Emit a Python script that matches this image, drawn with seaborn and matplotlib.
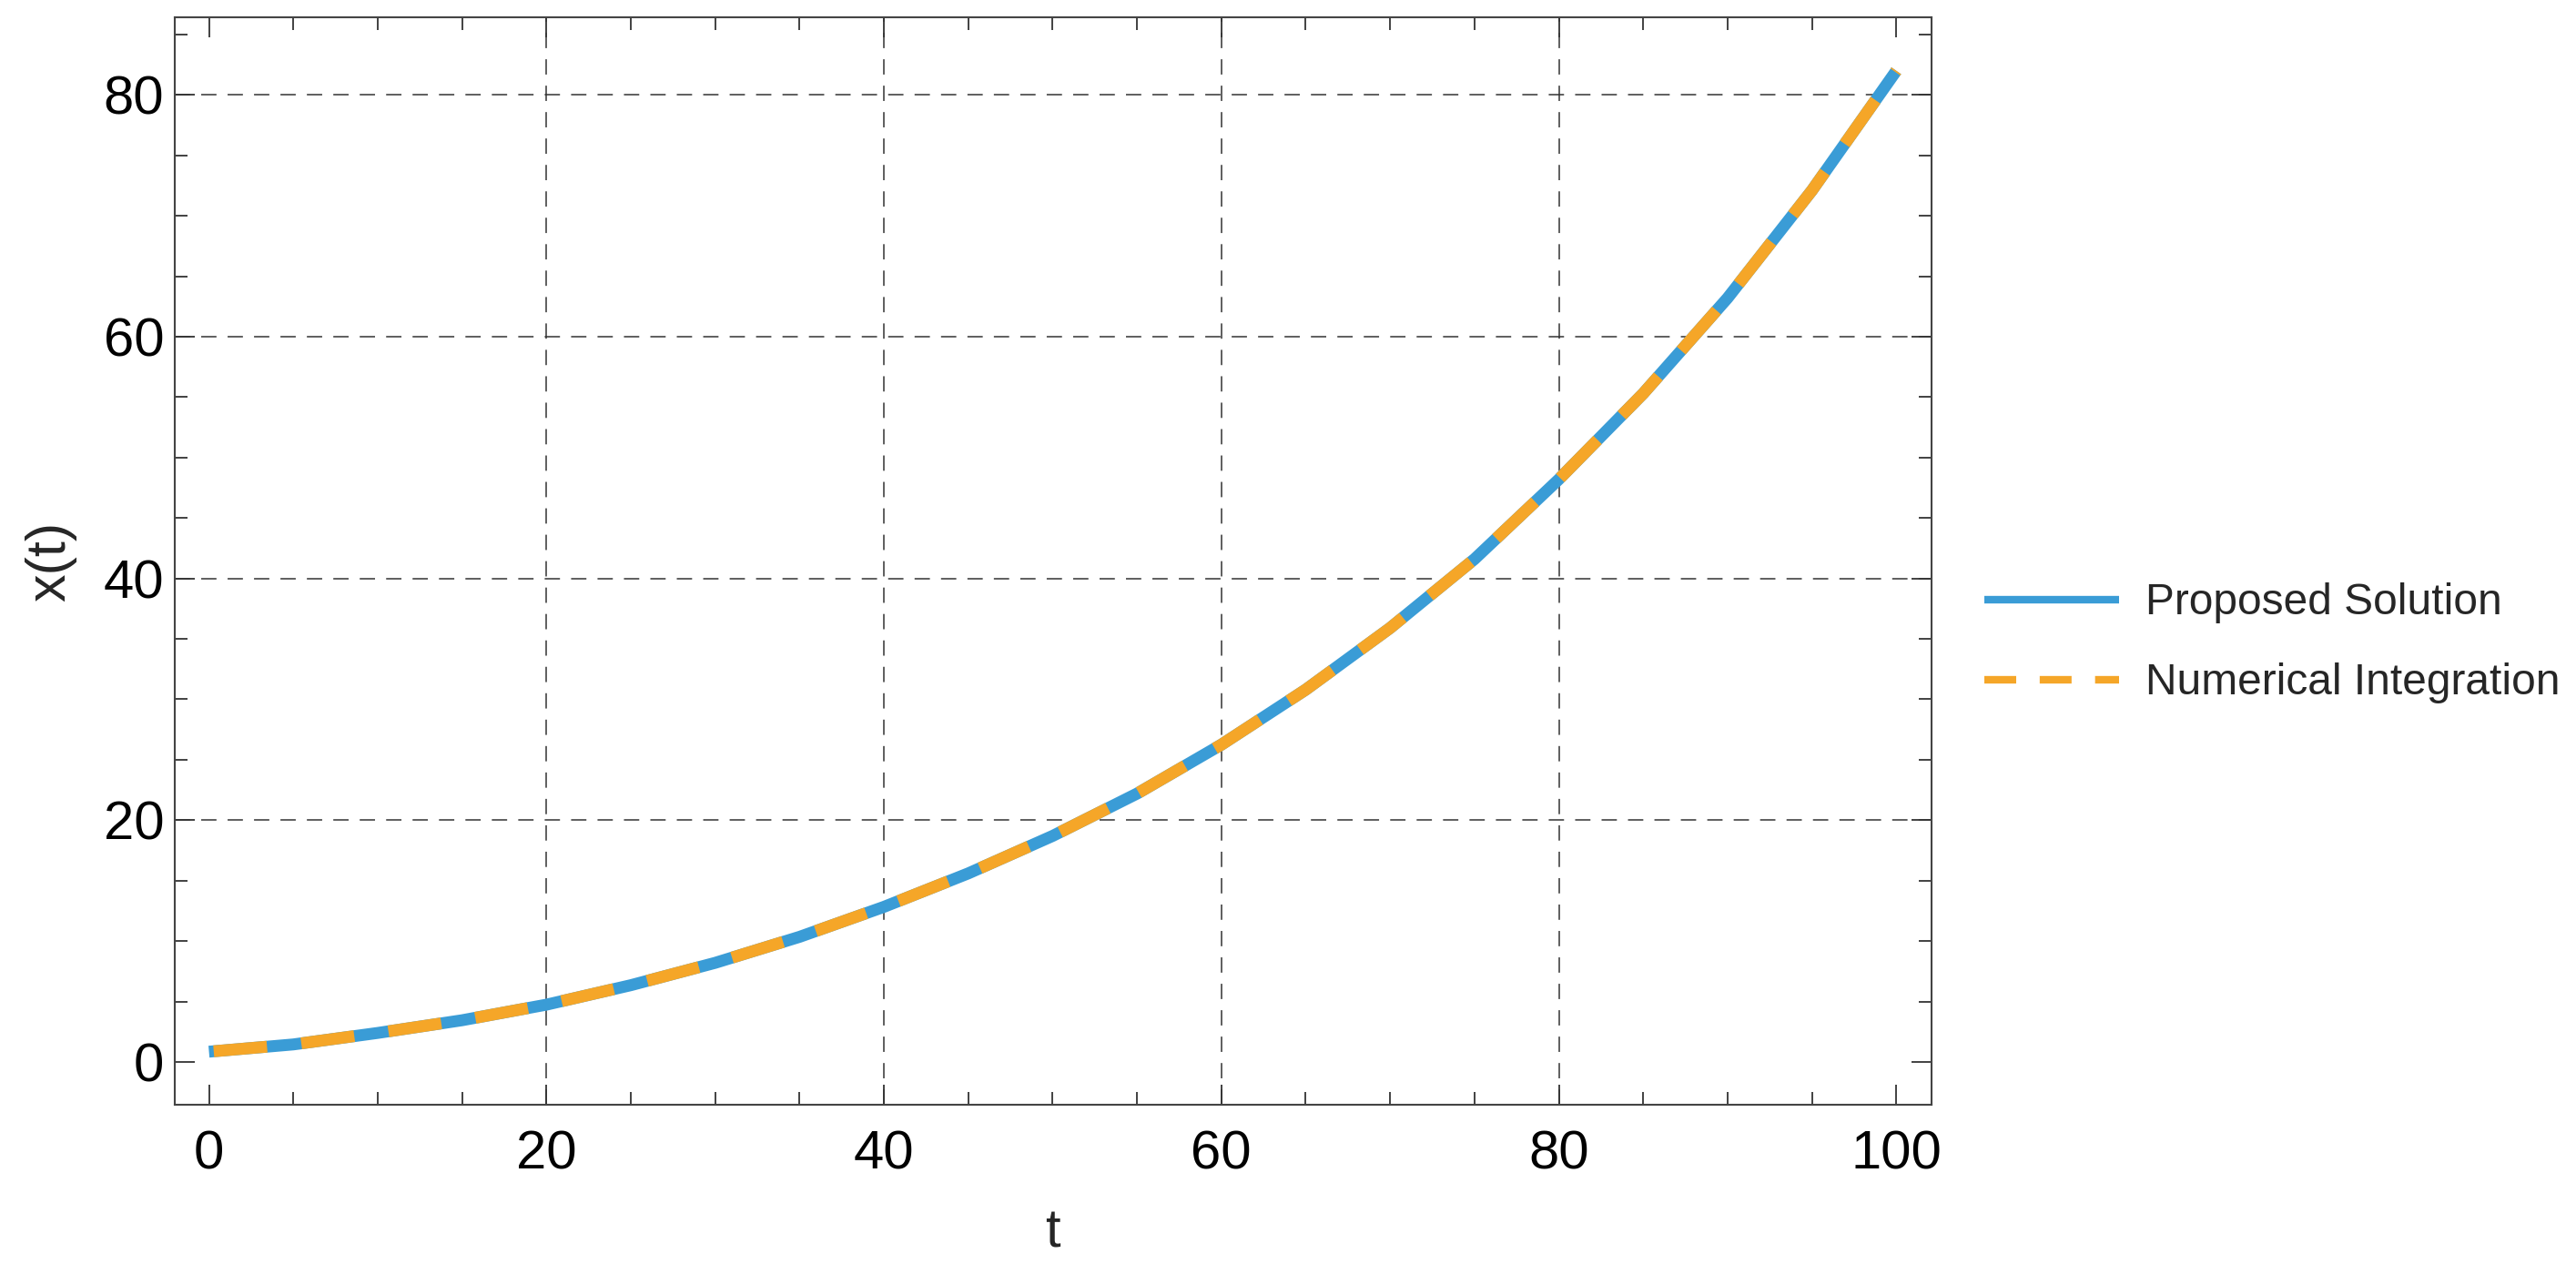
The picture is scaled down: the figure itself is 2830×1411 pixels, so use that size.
import matplotlib
matplotlib.use("Agg")
import matplotlib.pyplot as plt
from matplotlib.lines import Line2D
from matplotlib.ticker import MultipleLocator
import seaborn as sns

sns.set_theme(style="ticks")
plt.rcParams["font.family"] = ["Liberation Sans", "DejaVu Sans"]

# values
t_values = [0, 5, 10, 15, 20, 25, 30, 35, 40, 45, 50,
            55, 60, 65, 70, 75, 80, 85, 90, 95, 100]
proposed = [0.85, 1.45, 2.4, 3.45, 4.74, 6.35, 8.2, 10.35, 12.83, 15.6, 18.7,
            22.2, 26.25, 30.8, 35.9, 41.6, 48.2, 55.3, 63.2, 72.1, 82.0]
numerical = [0.85, 1.45, 2.4, 3.45, 4.74, 6.35, 8.2, 10.35, 12.83, 15.6, 18.7,
             22.2, 26.25, 30.8, 35.9, 41.6, 48.2, 55.3, 63.2, 72.1, 82.0]
series_labels = ["Proposed Solution", "Numerical Integration"]
grid_values = [20, 40, 60, 80]

BLUE = "#3a9cd6"
ORANGE = "#f5a628"
GRID = "#333333"
SPINE = "#444444"

fig = plt.figure(figsize=(28.3, 14.11), dpi=100)
ax = fig.add_axes([0.0677, 0.1398, 0.6822, 0.8465])

for g in grid_values:
    ax.axvline(g, color=GRID, lw=1.1, ls=(0, (11, 8)), zorder=1)
    ax.axhline(g, color=GRID, lw=1.1, ls=(0, (11, 8)), zorder=1)

sns.lineplot(x=t_values, y=proposed, ax=ax, color=BLUE, lw=9.4,
             estimator=None, solid_capstyle="butt", zorder=3)
sns.lineplot(x=t_values, y=numerical, ax=ax, color=ORANGE, lw=9.4,
             estimator=None, linestyle=(7.0, (4.5, 2.9)), zorder=4)

ax.set_xlim(-2.05, 102.1)
ax.set_ylim(-3.52, 86.4)
ax.xaxis.set_major_locator(MultipleLocator(20))
ax.xaxis.set_minor_locator(MultipleLocator(5))
ax.yaxis.set_major_locator(MultipleLocator(20))
ax.yaxis.set_minor_locator(MultipleLocator(5))
ax.tick_params(which="both", direction="in", top=True, right=True,
               color="#333333", width=1.3, labelsize=43, labelcolor="black")
ax.tick_params(which="major", length=16)
ax.tick_params(which="minor", length=10)
ax.tick_params(axis="x", which="major", pad=20)
ax.tick_params(axis="y", which="major", pad=8)

for side in ax.spines.values():
    side.set_color(SPINE)
    side.set_linewidth(1.5)

ax.set_xlabel("t", fontsize=43, labelpad=22)
ax.set_ylabel("x(t)", fontsize=44, labelpad=21)

handles = [
    Line2D([], [], color=BLUE, lw=6, solid_capstyle="butt"),
    Line2D([], [], color=ORANGE, lw=6, linestyle=(0, (4.2, 3.1))),
]
fig.legend(handles, series_labels, loc="center left",
           bbox_to_anchor=(0.7703, 0.499), frameon=False, fontsize=34.5,
           handlelength=3.1, handletextpad=0.6, labelspacing=0.9,
           borderpad=0, borderaxespad=0)

fig.savefig("out.png", dpi=100)
